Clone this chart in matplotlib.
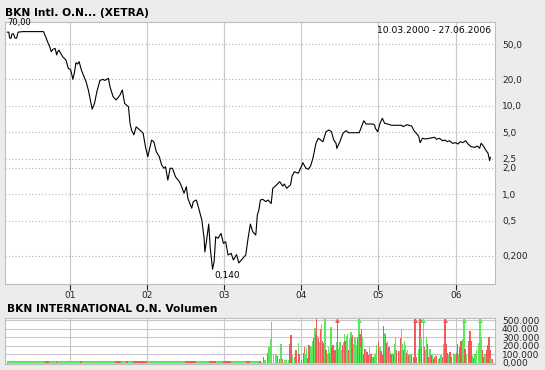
"""
Kursverlauf BKN Intl. O.N. (XETRA) mit Volumen-Panel darunter.
"""

import matplotlib
matplotlib.use("Agg")
import matplotlib.pyplot as plt
from matplotlib.ticker import NullLocator

# ── Kursdaten ─────────────────────────────────────────────────────────
price_dates = [
    2000.19, 2000.21, 2000.22, 2000.24, 2000.25, 2000.27, 2000.29, 2000.31, 2000.33, 2000.39,
    2000.66, 2000.69, 2000.72, 2000.74, 2000.76, 2000.78, 2000.81, 2000.83, 2000.84, 2000.86,
    2000.88, 2000.91, 2000.95, 2000.98, 2001.01, 2001.04, 2001.06, 2001.08, 2001.10, 2001.12,
    2001.15, 2001.18, 2001.21, 2001.24, 2001.27, 2001.29, 2001.32, 2001.35, 2001.39, 2001.43,
    2001.45, 2001.50, 2001.52, 2001.56, 2001.60, 2001.65, 2001.68, 2001.71, 2001.76, 2001.78,
    2001.80, 2001.83, 2001.86, 2001.91, 2001.95, 2001.98, 2002.01, 2002.04, 2002.06, 2002.09,
    2002.12, 2002.16, 2002.19, 2002.22, 2002.24, 2002.27, 2002.30, 2002.33, 2002.37, 2002.42,
    2002.45, 2002.48, 2002.51, 2002.53, 2002.58, 2002.60, 2002.64, 2002.67, 2002.71, 2002.74,
    2002.75, 2002.77, 2002.80, 2002.82, 2002.85, 2002.87, 2002.89, 2002.92, 2002.96, 2002.99,
    2003.02, 2003.05, 2003.09, 2003.12, 2003.16, 2003.19, 2003.24, 2003.28, 2003.31, 2003.34,
    2003.37, 2003.41, 2003.43, 2003.45, 2003.47, 2003.50, 2003.54, 2003.57, 2003.61, 2003.63,
    2003.68, 2003.72, 2003.76, 2003.78, 2003.81, 2003.86, 2003.88, 2003.91, 2003.96, 2003.99,
    2004.02, 2004.06, 2004.09, 2004.12, 2004.15, 2004.19, 2004.22, 2004.25, 2004.28, 2004.32,
    2004.36, 2004.39, 2004.42, 2004.45, 2004.46, 2004.50, 2004.54, 2004.58, 2004.61, 2004.75,
    2004.78, 2004.81, 2004.84, 2004.93, 2004.95, 2004.96, 2004.99, 2005.02, 2005.05, 2005.08,
    2005.12, 2005.17, 2005.30, 2005.32, 2005.37, 2005.43, 2005.46, 2005.49, 2005.52, 2005.54,
    2005.57, 2005.61, 2005.66, 2005.73, 2005.75, 2005.79, 2005.83, 2005.86, 2005.89, 2005.92,
    2005.96, 2006.00, 2006.03, 2006.06, 2006.09, 2006.13, 2006.16, 2006.20, 2006.25, 2006.28,
    2006.31, 2006.33, 2006.36, 2006.39, 2006.42, 2006.44, 2006.45,
]
price_values = [
    69, 69, 59, 59, 66, 66, 59, 59, 69, 70,
    70, 60, 51.5, 47, 41.4, 44, 45, 38, 41, 43,
    40, 36, 33.3, 26.8, 26, 20.1, 24, 31, 30, 31.9,
    25.6, 22, 18.9, 15.2, 11.2, 9.2, 10.7, 14.5, 19.5, 20.1,
    19.5, 20.6, 16.6, 12.8, 11.7, 13.3, 15.2, 10.7, 9.8, 6.4,
    5.3, 4.7, 5.8, 5.3, 4.9, 3.45, 2.65, 3.45, 4.1, 3.9,
    3.03, 2.65, 2.14, 1.96, 2.04, 1.44, 1.96, 1.96, 1.57, 1.38,
    1.21, 1.02, 1.21, 0.89, 0.69, 0.82, 0.855, 0.69, 0.51, 0.314,
    0.22, 0.287, 0.456, 0.242, 0.14, 0.17, 0.327, 0.314, 0.357, 0.275,
    0.287, 0.203, 0.212, 0.178, 0.205, 0.165, 0.185, 0.203, 0.314, 0.456,
    0.373, 0.342, 0.577, 0.658, 0.855, 0.87, 0.82, 0.855, 0.78, 1.16,
    1.27, 1.38, 1.23, 1.3, 1.16, 1.27, 1.6, 1.79, 1.72, 1.96,
    2.27, 1.96, 1.91, 2.08, 2.54, 3.77, 4.3, 4.11, 3.93, 5.1,
    5.34, 5.1, 4.11, 3.77, 3.3, 3.93, 4.9, 5.25, 4.97, 4.97,
    5.82, 6.8, 6.24, 6.24, 6.08, 5.58, 5.1, 6.36, 7.25, 6.36,
    6.24, 6.04, 6.04, 5.82, 6.13, 5.92, 5.25, 4.9, 4.56, 3.83,
    4.3, 4.22, 4.3, 4.41, 4.18, 4.3, 4.03, 4.11, 3.93, 4.03,
    3.77, 3.83, 3.7, 3.93, 3.83, 4.03, 3.7, 3.45, 3.39, 3.51,
    3.31, 3.77, 3.51, 3.16, 2.9, 2.4, 2.61,
]

# ── Volumen (in Tausend Stück; 'g' = grün, 'r' = rot) ────────────────
vol_dates = [
    2003.487, 2003.509, 2003.530, 2003.565, 2003.582, 2003.608, 2003.617, 2003.638, 2003.660, 2003.681,
    2003.694, 2003.724, 2003.737, 2003.755, 2003.789, 2003.811, 2003.832, 2003.854, 2003.867, 2003.884,
    2003.910, 2003.919, 2003.932, 2003.962, 2003.971, 2003.997, 2004.027, 2004.040, 2004.048, 2004.070,
    2004.083, 2004.100, 2004.126, 2004.143, 2004.156, 2004.169, 2004.178, 2004.191, 2004.199, 2004.212,
    2004.221, 2004.238, 2004.256, 2004.264, 2004.273, 2004.286, 2004.299, 2004.307, 2004.320, 2004.338,
    2004.351, 2004.364, 2004.377, 2004.385, 2004.394, 2004.411, 2004.428, 2004.437, 2004.454, 2004.467,
    2004.489, 2004.502, 2004.515, 2004.532, 2004.545, 2004.558, 2004.567, 2004.588, 2004.601, 2004.618,
    2004.631, 2004.644, 2004.653, 2004.666, 2004.679, 2004.696, 2004.709, 2004.726, 2004.739, 2004.748,
    2004.761, 2004.774, 2004.782, 2004.795, 2004.808, 2004.826, 2004.839, 2004.851, 2004.869, 2004.886,
    2004.903, 2004.921, 2004.934, 2004.946, 2004.964, 2004.977, 2004.998, 2005.020, 2005.033, 2005.050,
    2005.063, 2005.076, 2005.093, 2005.106, 2005.119, 2005.136, 2005.149, 2005.162, 2005.180, 2005.193,
    2005.206, 2005.223, 2005.236, 2005.257, 2005.270, 2005.283, 2005.301, 2005.309, 2005.322, 2005.335,
    2005.352, 2005.365, 2005.378, 2005.395, 2005.408, 2005.430, 2005.452, 2005.473, 2005.495, 2005.516,
    2005.529, 2005.538, 2005.551, 2005.560, 2005.581, 2005.594, 2005.611, 2005.624, 2005.637, 2005.655,
    2005.668, 2005.681, 2005.698, 2005.711, 2005.732, 2005.741, 2005.754, 2005.776, 2005.797, 2005.810,
    2005.827, 2005.840, 2005.853, 2005.862, 2005.875, 2005.888, 2005.905, 2005.927, 2005.948, 2005.970,
    2005.991, 2006.013, 2006.026, 2006.043, 2006.056, 2006.069, 2006.086, 2006.099, 2006.108, 2006.121,
    2006.143, 2006.164, 2006.186, 2006.199, 2006.216, 2006.229, 2006.251, 2006.272, 2006.294, 2006.315,
    2006.328, 2006.345, 2006.358, 2006.371, 2006.389, 2006.402, 2006.415, 2006.432, 2006.445, 2006.458,
    2006.475,
]
vol_values = [
    12, 69, 31, 115, 192, 281, 473, 108, 100, 88,
    77, 50, 223, 50, 31, 38, 31, 223, 331, 88,
    69, 50, 146, 231, 108, 31, 115, 185, 108, 177,
    62, 204, 185, 262, 292, 281, 408, 331, 512, 319,
    292, 242, 396, 454, 262, 231, 281, 512, 154, 108,
    185, 115, 223, 415, 185, 204, 108, 146, 242, 560,
    165, 242, 154, 204, 242, 338, 262, 319, 338, 154,
    281, 358, 300, 331, 223, 300, 204, 300, 435, 560,
    338, 185, 396, 300, 108, 165, 138, 127, 88, 185,
    108, 69, 69, 88, 115, 204, 242, 185, 138, 88,
    435, 346, 338, 231, 262, 185, 138, 108, 115, 108,
    223, 300, 154, 138, 138, 292, 396, 223, 146, 262,
    204, 115, 154, 88, 108, 88, 69, 560, 69, 165,
    146, 560, 300, 185, 560, 185, 146, 300, 223, 69,
    165, 88, 108, 50, 69, 108, 77, 50, 62, 88,
    69, 223, 308, 560, 223, 115, 88, 127, 69, 115,
    108, 115, 223, 108, 185, 262, 281, 377, 560, 165,
    108, 254, 377, 262, 77, 62, 108, 146, 231, 560,
    308, 146, 69, 108, 100, 154, 204, 300, 146, 50,
    50,
]
vol_colors = (
    "grgrgggggg"
    "rrgrgggrrg"
    "rgrgrrrrgg"
    "rrggrggrrg"
    "rgrgrrrgrg"
    "grrgrrgrgr"
    "gggrggrggr"
    "ggrrgggrgg"
    "rgrgrrgrrg"
    "rgrgggrgrr"
    "rgrrgrgrgr"
    "ggrrgrggrg"
    "grgrgrrrrg"
    "rrgrgrggrr"
    "grgrrgrgrg"
    "rggrrrgrrg"
    "grrgrrgrgr"
    "grrrgrgggg"
    "grrggrrrrg"
    "r"
)

# sehr kleine Umsätze 2000 - Mitte 2003 (nur als Linie sichtbar)
early_span = (2000.19, 2003.48)
early_red_spans = [
    (2000.68, 2000.73), (2000.82, 2000.84), (2001.13, 2001.16), (2001.58, 2001.66),
    (2001.73, 2001.76), (2001.82, 2002.00), (2002.49, 2002.63), (2002.81, 2002.90),
    (2002.99, 2003.09), (2003.28, 2003.33), (2003.45, 2003.48),
]
early_level = 20

# ── Achsen / Beschriftung ────────────────────────────────────────────
year_ticks = [2001, 2002, 2003, 2004, 2005, 2006]
year_labels = ["01", "02", "03", "04", "05", "06"]
price_ticks = [50, 20, 10, 5, 2.5, 2, 1, 0.5, 0.2]
price_labels = ["50,0", "20,0", "10,0", "5,0", "2,5", "2,0", "1,0", "0,5", "0,200"]
vol_ticks = [0, 100, 200, 300, 400, 500]
vol_labels = ["0,000", "100.000", "200.000", "300.000", "400.000", "500.000"]

TITLE = "BKN Intl. O.N... (XETRA)"
VOL_TITLE = "BKN INTERNATIONAL O.N. Volumen"
RANGE_TEXT = "10.03.2000 - 27.06.2006"

BG = "#ececec"
GRID = "#c8c8c8"
GREEN = "#5ce65c"
RED = "#f05a5a"
VOL_TOP = 525
OUTPUT_PNG = "out.png"
# ─────────────────────────────────────────────────────────────────────

W, H = 545, 370


def px_axes(left, top, right, bottom):
    return [left / W, 1 - bottom / H, (right - left) / W, (bottom - top) / H]


def style_box(ax):
    ax.set_facecolor("white")
    for s in ax.spines.values():
        s.set_color("#bdbdbd")
        s.set_linewidth(0.8)


def main():
    plt.rcParams["font.family"] = "DejaVu Sans"
    fig = plt.figure(figsize=(W / 100, H / 100), dpi=100, facecolor=BG)

    # ── Kurs ──
    ax = fig.add_axes(px_axes(5, 22, 495, 284))
    style_box(ax)
    ax.set_yscale("log")
    ax.plot(price_dates, price_values, color="black", lw=0.8)
    ax.set_xlim(2000.16, 2006.51)
    ax.set_ylim(0.095, 90)

    ax.yaxis.tick_right()
    ax.set_yticks(price_ticks)
    ax.set_yticklabels(price_labels)
    ax.yaxis.set_minor_locator(NullLocator())
    ax.set_xticks(year_ticks)
    ax.set_xticklabels(year_labels)
    ax.tick_params(axis="y", length=0, pad=5, labelsize=6.5, colors="#222222")
    ax.tick_params(axis="x", length=4, width=0.8, pad=1, labelsize=6.5, colors="#222222")
    ax.grid(axis="x", color=GRID, lw=0.8, ls="-")
    ax.grid(axis="y", color="#b4b4b4", lw=0.8, ls=(0, (1, 2)))

    imax = price_values.index(max(price_values))
    imin = price_values.index(min(price_values))
    ax.annotate(f"{price_values[imax]:.2f}".replace(".", ","),
                xy=(price_dates[imax], price_values[imax]), xytext=(-4, 9),
                textcoords="offset pixels", ha="center", va="center",
                fontsize=6, annotation_clip=False)
    ax.annotate(f"{price_values[imin]:.3f}".replace(".", ","),
                xy=(price_dates[imin], price_values[imin]), xytext=(2, -6),
                textcoords="offset pixels", ha="left", va="center",
                fontsize=6.5, annotation_clip=False)
    ax.text(0.992, 0.969, RANGE_TEXT, transform=ax.transAxes,
            ha="right", va="center", fontsize=6.6)

    fig.text(5 / W, 1 - 13 / H, TITLE, fontsize=7.7, fontweight="bold", va="center")
    fig.text(7 / W, 1 - 309 / H, VOL_TITLE, fontsize=7.7, fontweight="bold", va="center")

    # ── Volumen ──
    av = fig.add_axes(px_axes(5, 318, 495, 364))
    style_box(av)
    av.set_xlim(2000.16, 2006.51)
    av.set_ylim(-12, VOL_TOP)
    av.broken_barh([(early_span[0], early_span[1] - early_span[0])],
                   (0, early_level), facecolors=GREEN)
    av.broken_barh([(a, b - a) for a, b in early_red_spans],
                   (0, early_level), facecolors=RED)

    cols = [GREEN if c == "g" else RED for c in vol_colors]
    av.bar(vol_dates, vol_values, width=0.015, color=cols, linewidth=0)
    for d, v, c in zip(vol_dates, vol_values, cols):
        if v > VOL_TOP:
            av.plot(d, 505, marker="^", ms=3.5, color=c, mew=0, clip_on=False)

    av.yaxis.tick_right()
    av.set_yticks(vol_ticks)
    av.set_yticklabels(vol_labels)
    av.set_xticks(year_ticks)
    av.set_xticklabels([])
    av.tick_params(axis="both", length=0, pad=5, labelsize=6.5, colors="#222222")
    av.grid(color=GRID, lw=0.8, ls="-")
    av.set_axisbelow(True)

    fig.savefig(OUTPUT_PNG, dpi=100, facecolor=BG)
    print(f"Saved -> {OUTPUT_PNG}")


if __name__ == "__main__":
    main()
